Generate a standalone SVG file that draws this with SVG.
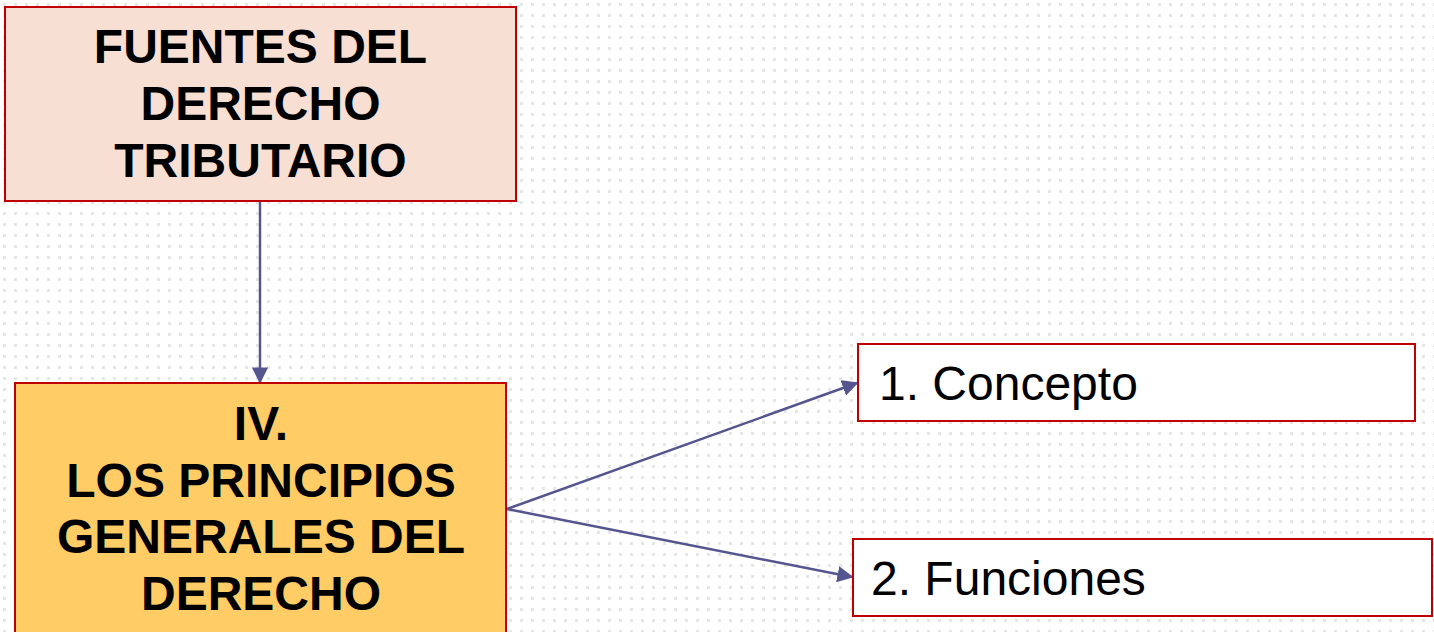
<svg xmlns="http://www.w3.org/2000/svg" width="1434" height="632" viewBox="0 0 1434 632">
  <defs>
    <pattern id="dots" x="0" y="0" width="11" height="11" patternUnits="userSpaceOnUse">
      <rect x="3" y="3" width="3" height="3" fill="#e6e6e6"/>
    </pattern>
    <marker id="arrow" viewBox="0 0 10 10" refX="9" refY="5" markerWidth="6.5" markerHeight="6.5" markerUnits="strokeWidth" orient="auto">
      <path d="M0,0 L10,5 L0,10 z" fill="#55558f"/>
    </marker>
    <style>
      .box { stroke: #c00000; stroke-width: 2; }
      .title { font-family: "Liberation Sans", Arial, sans-serif; font-weight: bold; font-size: 48px; fill: #000; text-anchor: middle; }
      .item { font-family: "Liberation Sans", Arial, sans-serif; font-size: 48px; fill: #000; }
      .conn { stroke: #55558f; stroke-width: 2.5; fill: none; }
    </style>
  </defs>
  <rect x="0" y="0" width="1434" height="632" fill="#ffffff"/>
  <rect x="0" y="0" width="1434" height="632" fill="url(#dots)"/>

  <g id="connectors">
    <line class="conn" x1="260" y1="201" x2="260" y2="382" marker-end="url(#arrow)"/>
    <line class="conn" x1="507" y1="509" x2="857" y2="383" marker-end="url(#arrow)"/>
    <line class="conn" x1="507" y1="509" x2="852" y2="577" marker-end="url(#arrow)"/>
  </g>

  <g id="fuentes">
    <rect class="box" x="5" y="7" width="511" height="194" fill="#f8dfd3"/>
    <text class="title" x="260.5" y="63">FUENTES DEL</text>
    <text class="title" x="260.5" y="120">DERECHO</text>
    <text class="title" x="260.5" y="177">TRIBUTARIO</text>
  </g>

  <g id="principios">
    <rect class="box" x="15" y="383" width="491" height="260" fill="#ffcc66"/>
    <text class="title" x="261" y="440">IV.</text>
    <text class="title" x="261" y="497">LOS PRINCIPIOS</text>
    <text class="title" x="261" y="553">GENERALES DEL</text>
    <text class="title" x="261" y="610">DERECHO</text>
  </g>

  <g id="concepto">
    <rect class="box" x="858" y="344" width="557" height="77" fill="#ffffff"/>
    <text class="item" x="879" y="400">1. Concepto</text>
  </g>

  <g id="funciones">
    <rect class="box" x="853" y="539" width="579" height="77" fill="#ffffff"/>
    <text class="item" x="871" y="595">2. Funciones</text>
  </g>
</svg>
